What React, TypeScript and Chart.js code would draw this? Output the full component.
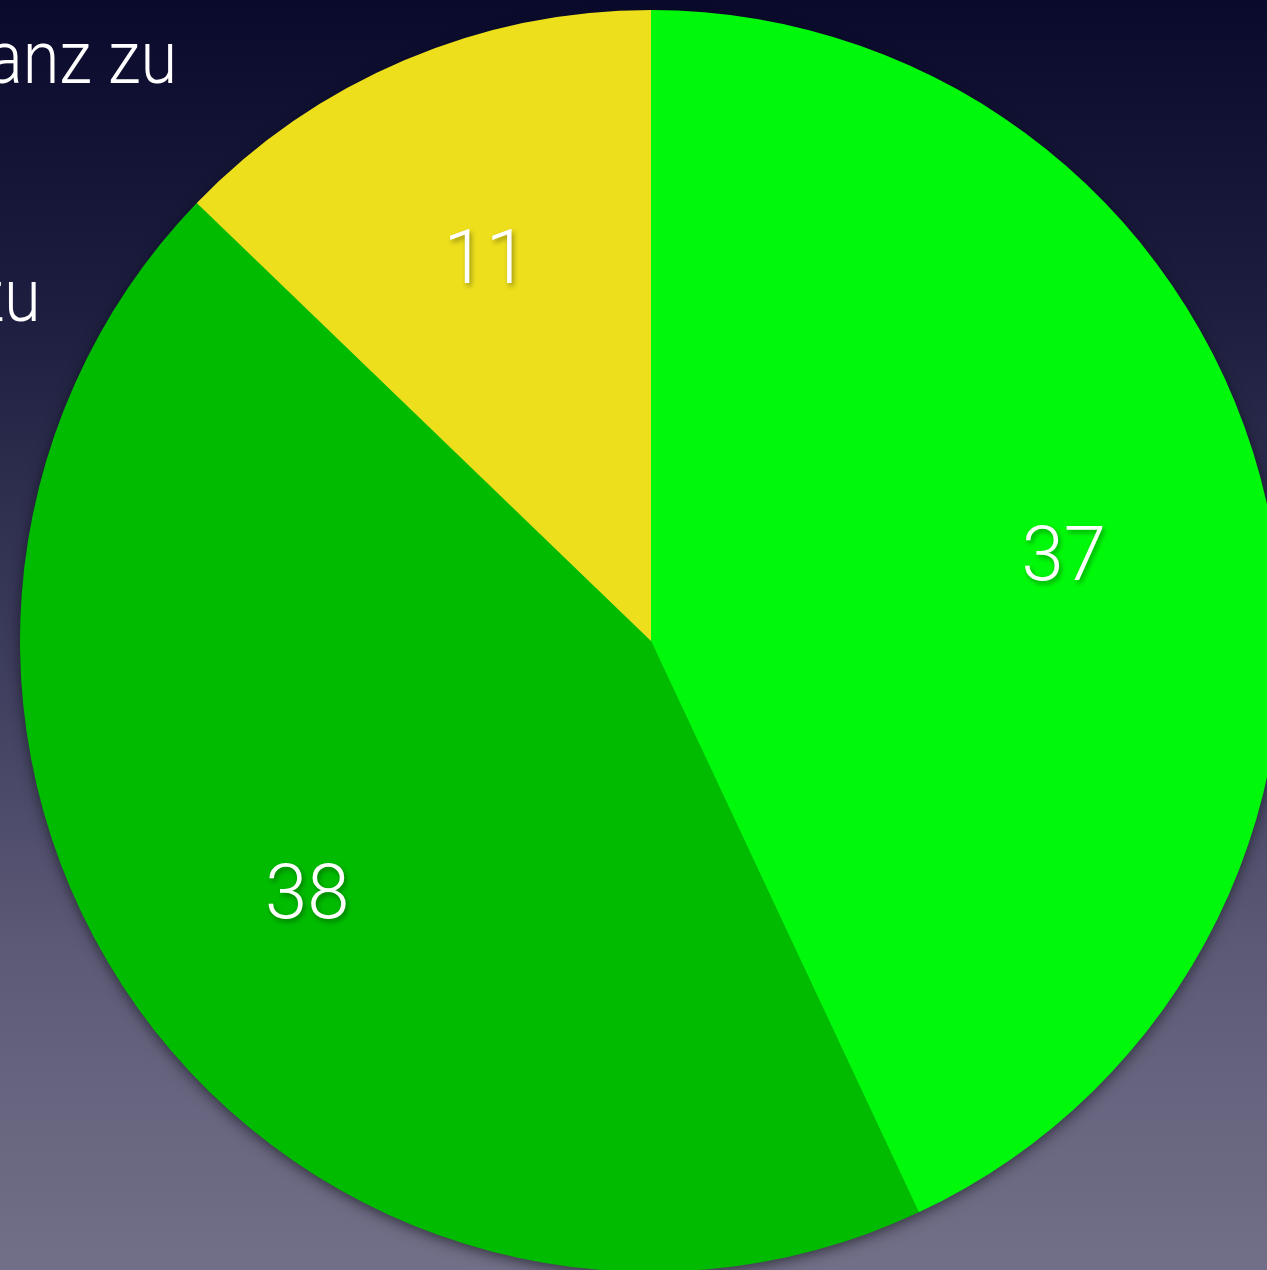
import React, { useEffect, useRef } from "react";
import { Chart, registerables } from "chart.js";

Chart.register(...registerables);

const categories = ["Stimme ganz zu", "Stimme eher zu", "Stimme eher nicht zu"];
const values = [37, 38, 11];
const colors = ["#00F90A", "#00BB00", "#EDDF1C"];
const legendTexts = ["Stimme ganz zu", "Stimme eher zu"];

const FONT = "Roboto, 'Open Sans', 'Noto Sans', sans-serif";

const shadowPlugin = {
  id: "pieShadow",
  beforeDatasetsDraw(chart: any) {
    const meta = chart.getDatasetMeta(0);
    const arc = meta.data[0];
    if (!arc) return;
    const ctx = chart.ctx;
    ctx.save();
    ctx.shadowColor = "rgba(0,0,0,0.55)";
    ctx.shadowBlur = 14;
    ctx.shadowOffsetX = 0;
    ctx.shadowOffsetY = 4;
    ctx.fillStyle = "#00BB00";
    ctx.beginPath();
    ctx.arc(arc.x, arc.y, arc.outerRadius - 1, 0, Math.PI * 2);
    ctx.fill();
    ctx.restore();
  },
};

const labelPlugin = {
  id: "sliceLabels",
  afterDatasetsDraw(chart: any) {
    const meta = chart.getDatasetMeta(0);
    const ctx = chart.ctx;
    const data = chart.data.datasets[0].data;
    ctx.save();
    ctx.font = `300 76px ${FONT}`;
    ctx.textAlign = "center";
    ctx.textBaseline = "alphabetic";
    ctx.fillStyle = "#ffffff";
    ctx.shadowColor = "rgba(0,0,0,0.35)";
    ctx.shadowBlur = 5;
    ctx.shadowOffsetX = 2;
    ctx.shadowOffsetY = 3;
    meta.data.forEach((el: any, i: number) => {
      const mid = (el.startAngle + el.endAngle) / 2;
      const r = el.outerRadius * 0.67;
      const x = el.x + Math.cos(mid) * r;
      const y = el.y + Math.sin(mid) * r;
      ctx.fillText(String(data[i]), x, y + 31);
    });
    ctx.restore();
  },
};

export default function App() {
  const ref = useRef<HTMLCanvasElement>(null);

  useEffect(() => {
    if (!ref.current) return;
    const chart = new Chart(ref.current, {
      type: "pie",
      data: {
        labels: categories,
        datasets: [
          {
            data: values,
            backgroundColor: colors,
            borderWidth: 0,
          },
        ],
      },
      options: {
        responsive: false,
        animation: false,
        layout: { padding: { left: 20, right: 20, top: 10, bottom: 10 } },
        plugins: {
          legend: { display: false },
          tooltip: { enabled: false },
        },
      },
      plugins: [shadowPlugin, labelPlugin],
    });
    return () => chart.destroy();
  }, []);

  return (
    <div
      style={{
        position: "fixed",
        left: 0,
        top: 0,
        width: 1267,
        height: 1270,
        overflow: "hidden",
        background:
          "linear-gradient(to bottom, #0a0a2c 0%, #1e1e40 25%, #3a3a5a 50%, #5c5a76 75%, #727088 100%)",
      }}
    >
      {legendTexts.map((t, i) => (
        <div
          key={t}
          style={{
            position: "absolute",
            right: i === 0 ? 1267 - 177 : 1267 - 41,
            top: i === 0 ? 18 : 256,
            fontFamily: FONT,
            fontWeight: 300,
            fontSize: 74,
            lineHeight: "80px",
            color: "#ffffff",
            whiteSpace: "nowrap",
            transform: "scaleX(0.9)",
            transformOrigin: "right center",
          }}
        >
          {t}
        </div>
      ))}
      <canvas
        ref={ref}
        width={1302}
        height={1282}
        style={{ position: "absolute", left: 0, top: 0, width: 1302, height: 1282 }}
      />
    </div>
  );
}
